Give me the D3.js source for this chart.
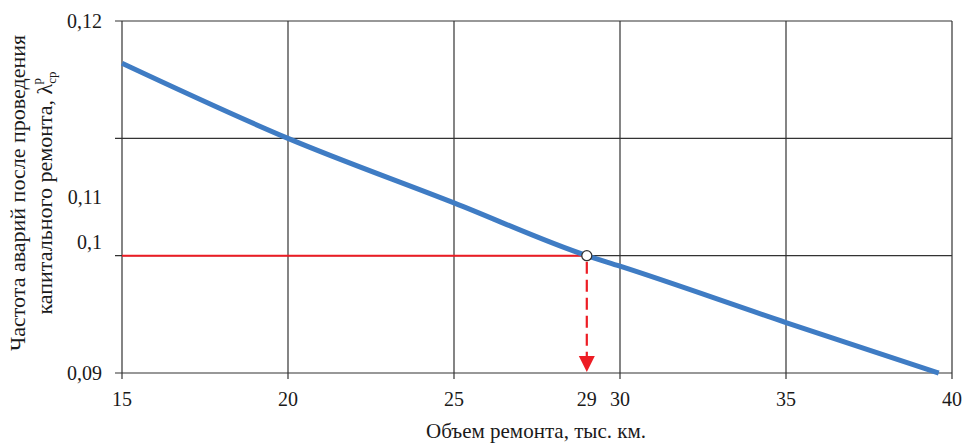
<!DOCTYPE html>
<html>
<head>
<meta charset="utf-8">
<script src="https://cdn.jsdelivr.net/npm/d3@7"></script>
<style>
  body { margin: 0; background: #fff; }
  svg text { font-family: "Liberation Serif", "Times New Roman", serif; fill: #1a1a1a; }
</style>
</head>
<body>
<svg id="drawing_region"></svg>
<script>
// curve
const volume = [15, 20, 25, 29, 30, 35, 39.6];
const rate = [0.1164, 0.110, 0.1045, 0.100, 0.0991, 0.0943, 0.090];

const xTicks = [15, 20, 25, 29, 30, 35, 40];
const xGrid = [15, 20, 25, 30, 35, 40];
const yGrid = [0.12, 0.11, 0.10, 0.09];
// labels sit where the source put them (not on every grid line)
const yLabelAt = [0.12, 0.105, 0.1011, 0.09];
const yLabels = ["0,12", "0,11", "0,1", "0,09"];

const target = { x: 29, y: 0.100 };

const config = {
    parent: '#drawing_region',
    width: 964,
    height: 444,
    margin: { top: 21, right: 12, bottom: 71, left: 122 }
};

const svg = d3.select(config.parent)
    .attr('width', config.width)
    .attr('height', config.height);

const w = config.width - config.margin.left - config.margin.right;
const h = config.height - config.margin.top - config.margin.bottom;

const chart = svg.append('g')
    .attr('transform', `translate(${config.margin.left}, ${config.margin.top})`);

const x = d3.scaleLinear().domain([15, 40]).range([0, w]);
const y = d3.scaleLinear().domain([0.09, 0.12]).range([h, 0]);

// grid
chart.selectAll('.hgrid')
    .data(yGrid)
    .enter()
    .append('line')
    .attr('x1', -7).attr('x2', w)
    .attr('y1', d => y(d)).attr('y2', d => y(d))
    .attr('stroke', '#333')
    .attr('stroke-width', 1.2);

chart.selectAll('.vgrid')
    .data(xGrid)
    .enter()
    .append('line')
    .attr('x1', d => x(d)).attr('x2', d => x(d))
    .attr('y1', 0).attr('y2', h + 6)
    .attr('stroke', '#333')
    .attr('stroke-width', 1.2);

// y labels
chart.selectAll('.ylab')
    .data(yLabels)
    .enter()
    .append('text')
    .attr('x', -20)
    .attr('y', (d, i) => y(yLabelAt[i]))
    .attr('dy', '0.33em')
    .attr('text-anchor', 'end')
    .attr('font-size', '20px')
    .text(d => d);

// x labels
chart.selectAll('.xlab')
    .data(xTicks)
    .enter()
    .append('text')
    .attr('x', d => x(d))
    .attr('y', h + 33)
    .attr('text-anchor', 'middle')
    .attr('font-size', '20px')
    .text(d => d);

// titles
svg.append('text')
    .attr('x', 536)
    .attr('y', 438)
    .attr('text-anchor', 'middle')
    .attr('font-size', '21px')
    .text('Объем ремонта, тыс. км.');

const yt = svg.append('text')
    .attr('transform', 'translate(0,193) rotate(-90)')
    .attr('text-anchor', 'middle')
    .attr('font-size', '22px');
yt.append('tspan').attr('x', 0).attr('y', 25).text('Частота аварий после проведения');
yt.append('tspan').attr('x', 0).attr('y', 52).text('капитального ремонта, λ');
yt.append('tspan').attr('font-size', '13px').attr('dy', 4).text('ср');
yt.append('tspan').attr('font-size', '13px').attr('dx', -13).attr('dy', -15).text('р');

// red guide lines
const tx = x(target.x), ty = y(target.y), base = y(0.09);

chart.append('line')
    .attr('x1', x(15)).attr('x2', tx)
    .attr('y1', ty).attr('y2', ty)
    .attr('stroke', '#ed1c24')
    .attr('stroke-width', 2);

chart.append('line')
    .attr('x1', tx).attr('x2', tx)
    .attr('y1', ty + 6).attr('y2', base - 16)
    .attr('stroke', '#ed1c24')
    .attr('stroke-width', 2.2)
    .attr('stroke-dasharray', '12,6');

chart.append('path')
    .attr('d', `M${tx - 8},${base - 17} L${tx + 8},${base - 17} L${tx},${base - 1} Z`)
    .attr('fill', '#ed1c24');

// main curve
const line = d3.line()
    .x((d, i) => x(volume[i]))
    .y(d => y(d))
    .curve(d3.curveMonotoneX);

chart.append('path')
    .datum(rate)
    .attr('d', line)
    .attr('fill', 'none')
    .attr('stroke', '#3f7cc4')
    .attr('stroke-width', 5);

chart.append('circle')
    .attr('cx', tx)
    .attr('cy', ty)
    .attr('r', 5)
    .attr('fill', '#fff')
    .attr('stroke', '#333')
    .attr('stroke-width', 1.3);
</script>
</body>
</html>
